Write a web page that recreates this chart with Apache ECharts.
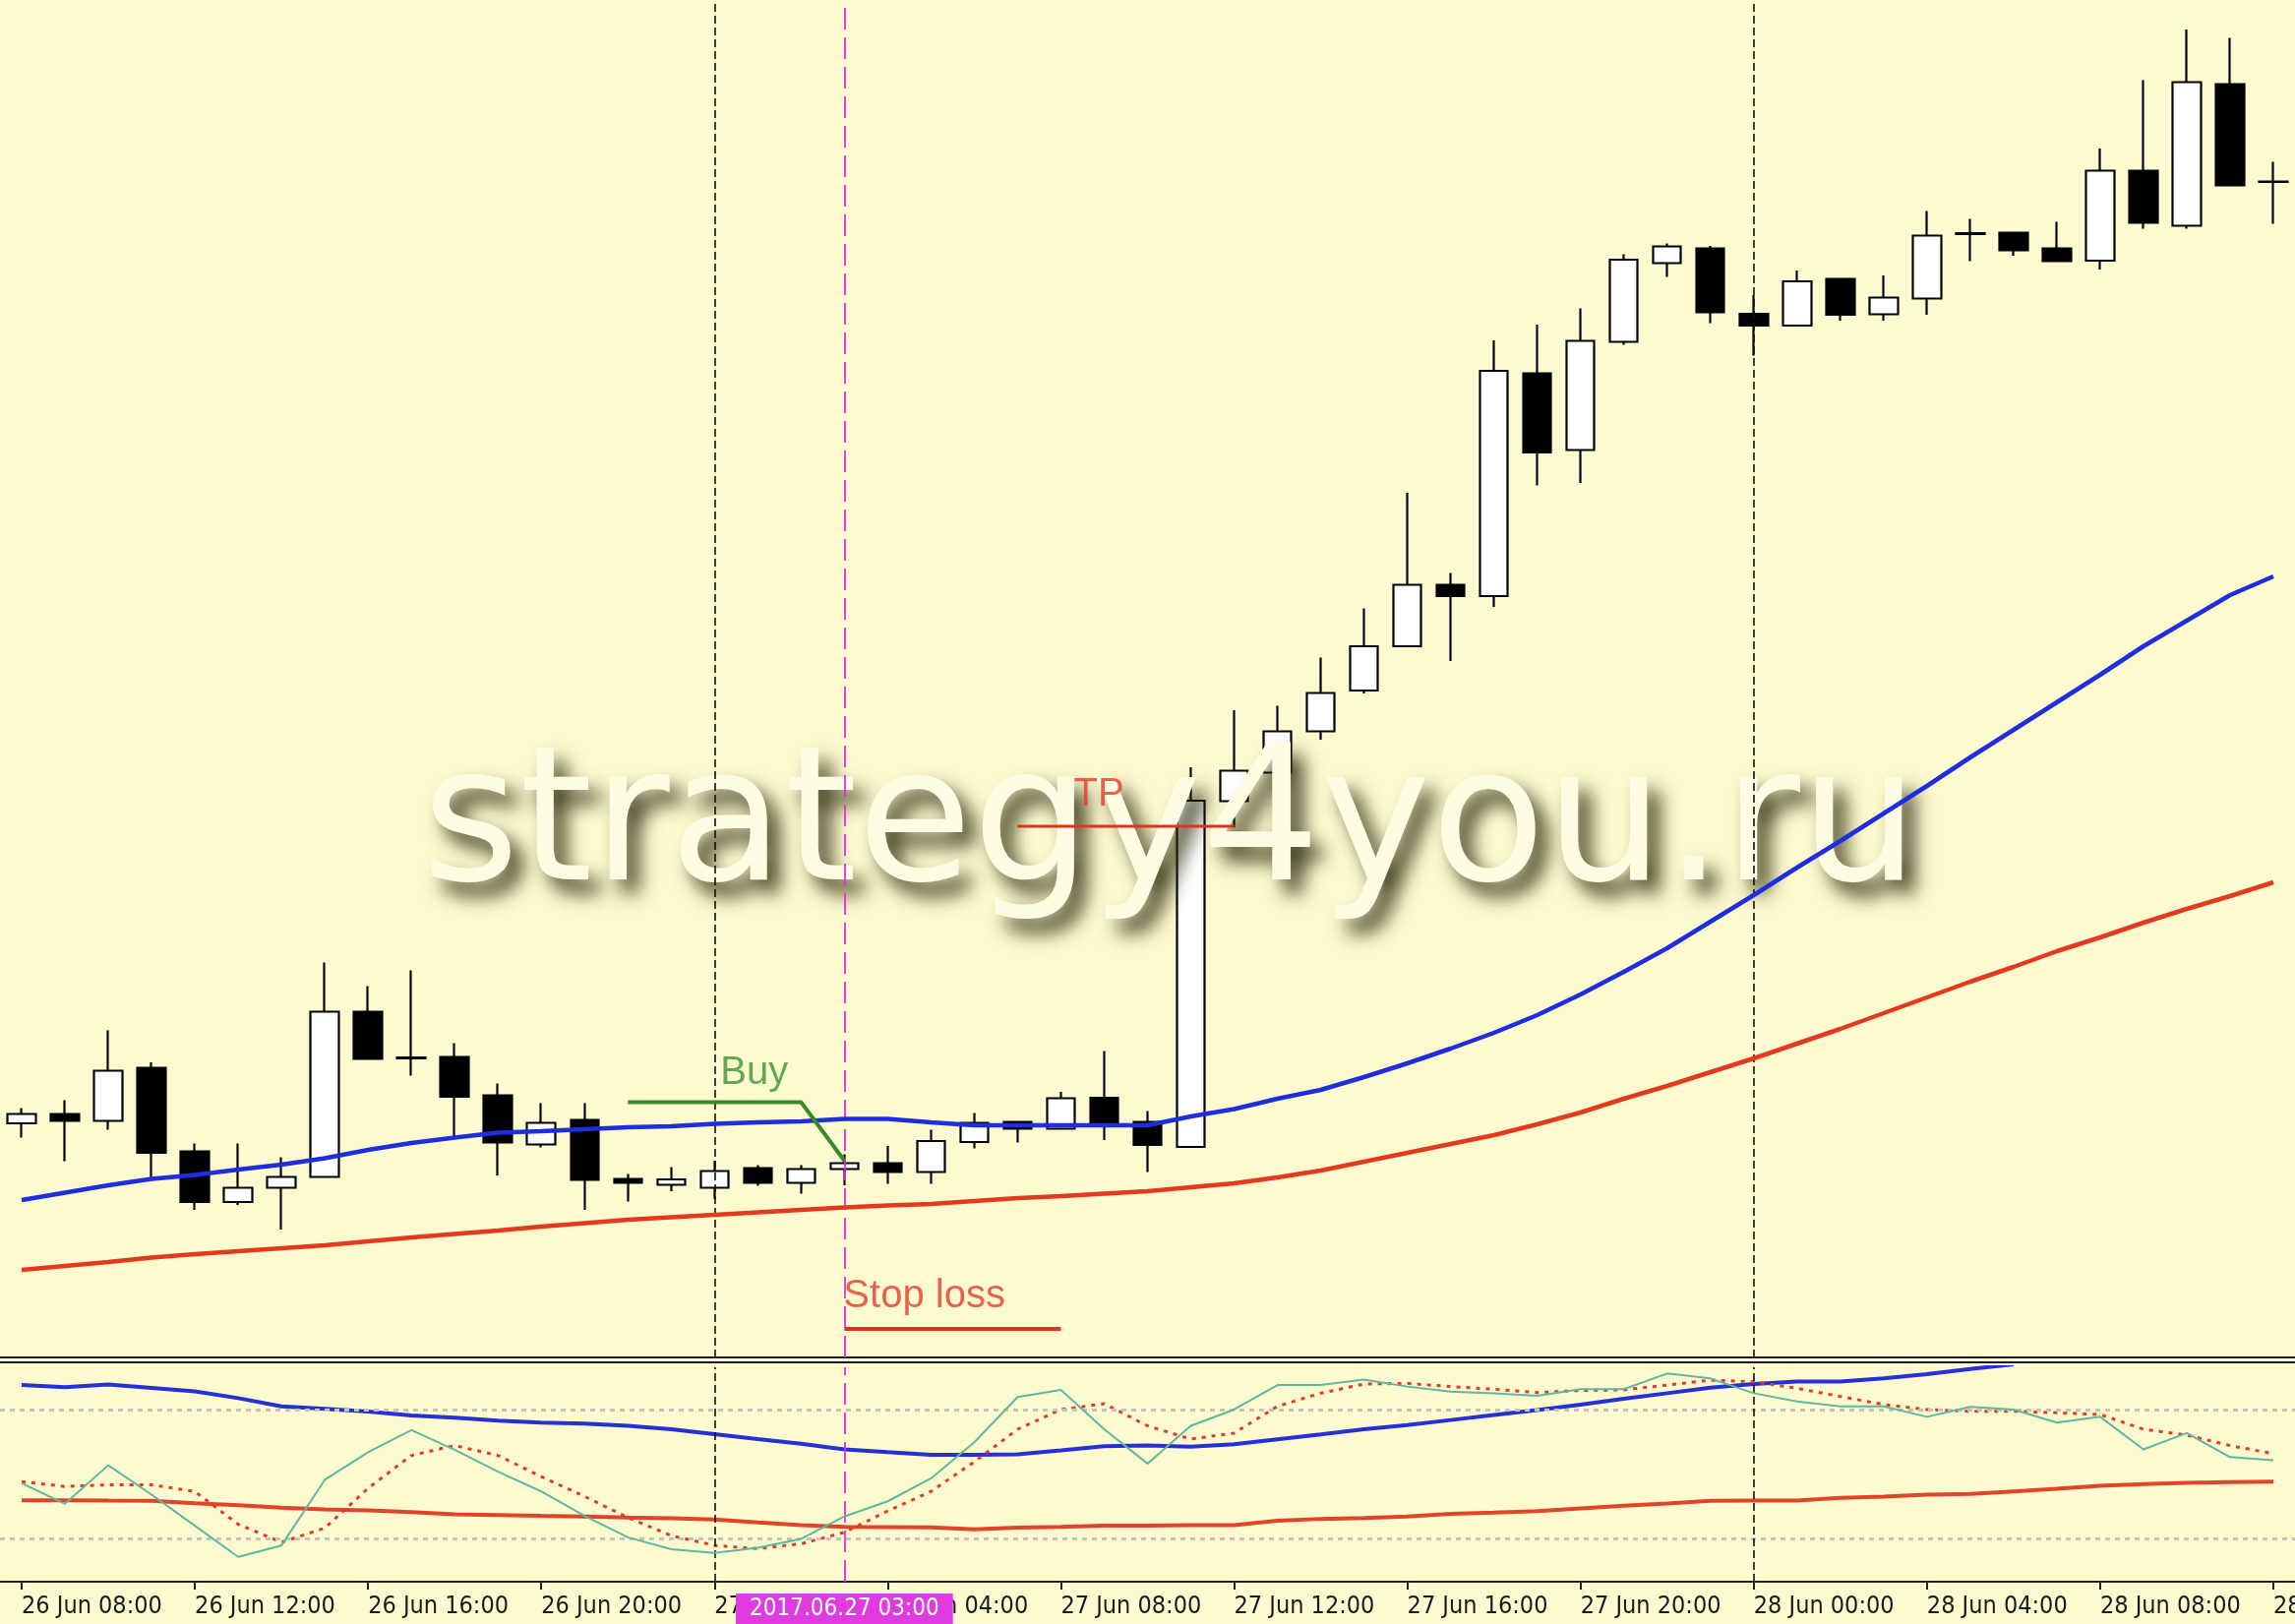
<!DOCTYPE html>
<html><head><meta charset="utf-8">
<script src="https://cdn.jsdelivr.net/npm/echarts/dist/echarts.min.js"></script>
<style>html,body{margin:0;padding:0;background:#fefad0;overflow:hidden}#chart{width:2333px;height:1651px;}</style>
</head><body><div id="chart"></div>
<script>
const times = [
 '26 Jun 08:00','26 Jun 09:00','26 Jun 10:00','26 Jun 11:00','26 Jun 12:00','26 Jun 13:00','26 Jun 14:00','26 Jun 15:00',
 '26 Jun 16:00','26 Jun 17:00','26 Jun 18:00','26 Jun 19:00','26 Jun 20:00','26 Jun 21:00','26 Jun 22:00','26 Jun 23:00',
 '27 Jun 00:00','27 Jun 01:00','27 Jun 02:00','27 Jun 03:00','27 Jun 04:00','27 Jun 05:00','27 Jun 06:00','27 Jun 07:00',
 '27 Jun 08:00','27 Jun 09:00','27 Jun 10:00','27 Jun 11:00','27 Jun 12:00','27 Jun 13:00','27 Jun 14:00','27 Jun 15:00',
 '27 Jun 16:00','27 Jun 17:00','27 Jun 18:00','27 Jun 19:00','27 Jun 20:00','27 Jun 21:00','27 Jun 22:00','27 Jun 23:00',
 '28 Jun 00:00','28 Jun 01:00','28 Jun 02:00','28 Jun 03:00','28 Jun 04:00','28 Jun 05:00','28 Jun 06:00','28 Jun 07:00',
 '28 Jun 08:00','28 Jun 09:00','28 Jun 10:00','28 Jun 11:00','28 Jun 12:00'
];
// [open, close, low, high]
const candles = [
 [1.11716,1.11735,1.11687,1.11747],[1.11735,1.11721,1.11639,1.11763],[1.11721,1.11823,1.11703,1.11905],[1.11829,1.11656,1.11605,1.11840],
 [1.11659,1.11556,1.11540,1.11675],[1.11556,1.11585,1.11550,1.11675],[1.11585,1.11607,1.11500,1.11647],[1.11607,1.11943,1.11605,1.12043],
 [1.11943,1.11847,1.11845,1.11995],[1.11850,1.11848,1.11813,1.12027],[1.11851,1.11770,1.11690,1.11879],[1.11773,1.11677,1.11610,1.11797],
 [1.11673,1.11717,1.11667,1.11757],[1.11723,1.11601,1.11540,1.11757],[1.11603,1.11595,1.11557,1.11613],[1.11591,1.11602,1.11578,1.11627],
 [1.11585,1.11619,1.11562,1.11640],[1.11625,1.11595,1.11589,1.11631],[1.11595,1.11623,1.11573,1.11631],[1.11623,1.11635,1.11590,1.11653],
 [1.11635,1.11617,1.11593,1.11670],[1.11617,1.11680,1.11593,1.11703],[1.11678,1.11717,1.11665,1.11737],[1.11719,1.11705,1.11677,1.11720],
 [1.11705,1.11767,1.11703,1.11780],[1.11768,1.11717,1.11682,1.11863],[1.11719,1.11672,1.11617,1.11741],[1.11668,1.12372,1.11666,1.12440],
 [1.12371,1.12433,1.12318,1.12556],[1.12429,1.12513,1.12344,1.12565],[1.12513,1.12591,1.12496,1.12663],[1.12596,1.12686,1.12590,1.12763],
 [1.12686,1.12811,1.12684,1.12998],[1.12811,1.12788,1.12656,1.12835],[1.12788,1.13246,1.12766,1.13308],[1.13241,1.13080,1.13013,1.13340],
 [1.13085,1.13307,1.13018,1.13373],[1.13305,1.13472,1.13299,1.13483],[1.13465,1.13499,1.13437,1.13505],[1.13495,1.13365,1.13343,1.13500],
 [1.13362,1.13338,1.13277,1.13400],[1.13338,1.13428,1.13336,1.13450],[1.13433,1.13360,1.13348,1.13435],[1.13361,1.13395,1.13348,1.13440],
 [1.13393,1.13521,1.13360,1.13571],[1.13524,1.13526,1.13469,1.13555],[1.13527,1.13491,1.13480,1.13527],[1.13495,1.13469,1.13468,1.13549],
 [1.13470,1.13653,1.13452,1.13698],[1.13653,1.13547,1.13535,1.13837],[1.13541,1.13833,1.13535,1.13940],[1.13829,1.13623,1.13622,1.13923],
 [1.13631,1.13630,1.13545,1.13671]
];
const maFast = [
 1.11560,1.11575,1.11590,1.11603,1.11611,1.11622,1.11632,1.11645,1.11662,1.11676,1.11687,1.11697,1.11700,1.11704,1.11708,1.11710,
 1.11715,1.11718,1.11720,1.11725,1.11725,1.11718,1.11712,1.11712,1.11712,1.11712,1.11712,1.11730,1.11745,1.11766,1.11784,1.11810,
 1.11838,1.11868,1.11900,1.11936,1.11978,1.12024,1.12072,1.12126,1.12180,1.12236,1.12290,1.12346,1.12402,1.12460,1.12516,1.12572,
 1.12628,1.12686,1.12738,1.12790,1.12828
];
const maSlow = [
 1.11418,1.11426,1.11434,1.11443,1.11450,1.11456,1.11462,1.11468,1.11476,1.11484,1.11491,1.11498,1.11506,1.11513,1.11520,1.11525,
 1.11530,1.11535,1.11540,1.11545,1.11549,1.11552,1.11558,1.11564,1.11568,1.11573,1.11578,1.11586,1.11594,1.11606,1.11620,1.11638,
 1.11656,1.11674,1.11692,1.11714,1.11738,1.11766,1.11792,1.11820,1.11848,1.11878,1.11908,1.11940,1.11972,1.12004,1.12034,1.12066,
 1.12094,1.12124,1.12152,1.12178,1.12206
];
const stochMain = [
 45.9,36.3,54.3,40.6,26.1,11.6,16.9,47.5,60.4,70.7,61.5,51.3,42.1,30.7,20.7,15.1,13.4,15.8,20.0,30.4,37.5,48.2,65.0,86.1,89.4,71.1,55.1,
 72.7,80.3,91.7,91.7,94.3,91.0,88.7,87.9,86.7,89.8,89.8,97.1,94.8,87.9,84.1,81.8,81.8,76.9,81.5,80.3,74.2,76.9,61.7,69.3,58.1,56.6
];
const stochSignal = [
 46.7,44.4,45.2,45.2,42.1,26.8,18.4,25.0,43.6,58.9,63.5,58.9,49.0,39.8,29.9,21.5,16.9,15.4,17.7,23.0,33.0,42.1,55.9,71.1,80.3,83.0,72.7,
 66.5,69.3,81.8,87.9,92.2,92.5,91.0,89.8,88.2,89.2,89.5,91.7,94.0,93.3,90.2,86.4,82.6,80.3,79.5,79.5,78.8,78.0,71.1,68.4,63.5,59.7
];
const oscBlue = [
 91.7,90.7,92.0,90.4,88.8,85.6,81.8,80.6,79.4,77.5,76.5,75.1,74.2,73.7,72.7,71.1,68.8,66.5,64.3,61.7,60.4,59.2,59.2,59.4,61.2,63.2,63.5,
 63.0,64.1,66.4,68.7,71.1,73.1,75.4,77.8,80.0,82.6,85.3,87.9,90.5,92.2,93.3,93.4,94.8,96.8,99.2,101.4,null,null,null,null,null,null
];
const oscRed = [
 38.0,38.0,37.8,37.7,36.6,35.7,34.5,33.7,33.3,32.5,31.4,31.1,30.7,30.4,29.9,29.6,29.0,27.6,26.4,25.6,25.5,25.3,24.4,25.2,25.6,26.1,26.2,
 26.4,26.4,28.4,29.3,29.7,30.4,31.7,32.2,32.9,34.2,35.4,36.5,37.7,37.8,37.8,39.1,39.7,40.6,40.9,42.1,43.3,44.7,45.5,46.1,46.5,46.7
];
const buyLine = [[14,1.11759],[18,1.11759],[19,1.11640]];
const tpLine = [[23,1.12320],[28,1.12320]];
const slLine = [[19,1.11298],[24,1.11298]];
const notes = ['Buy','TP','Stop loss'];
const noteX = [16,24,19];
const noteY = [1.11818,1.12384,1.11364];
const separators = [16,40];
const entryIndex = 19;
const entryLabel = '2017.06.27 03:00';
const levels = [20,80];
const watermark = 'strategy4you.ru';

const axisFont = "'Liberation Sans Narrow','DejaVu Sans Condensed','Liberation Sans',sans-serif";
const noteColors = ['#3d9530','#e23b2e','#e23b2e'];
const noteOffsets = [[6,0],[13,0],[-1,0]];

const sepStyle = {color:'#111', type:[8,4], width:1.6};
const magStyle = {color:'#e22ee2', type:[22,8], width:1.8};

const chart = echarts.init(document.getElementById('chart'), null, {renderer:'canvas'});
const option = {
  backgroundColor:'#fefad0',
  animation:false,
  grid:[
    {left:0,right:0,top:0,height:1380,containLabel:false,outerBoundsMode:'none'},
    {left:0,right:0,top:1390,height:218,containLabel:false,outerBoundsMode:'none'}
  ],
  xAxis:[
    {type:'category',gridIndex:0,data:times,boundaryGap:true,
     axisLine:{show:true,onZero:false,lineStyle:{color:'#1a1a1a',width:2}},axisTick:{show:false},axisLabel:{show:false},splitLine:{show:false}},
    {type:'category',gridIndex:1,data:times,boundaryGap:true,
     axisLine:{show:true,onZero:false,lineStyle:{color:'#222',width:2}},
     axisTick:{show:true,alignWithLabel:true,interval:3,length:8,lineStyle:{color:'#222',width:2}},
     axisLabel:{show:true,interval:3,align:'left',margin:13,fontSize:25,fontFamily:axisFont,color:'#1a1a1a',hideOverlap:false},
     splitLine:{show:false}},
    {type:'category',gridIndex:1,data:times,position:'top',offset:5,
     axisLine:{show:true,onZero:false,lineStyle:{color:'#1a1a1a',width:2}},axisTick:{show:false},axisLabel:{show:false},splitLine:{show:false}}
  ],
  yAxis:[
    {type:'value',gridIndex:0,min:1.11240,max:1.14000,show:false,splitLine:{show:false}},
    {type:'value',gridIndex:1,min:0,max:100,show:false,splitLine:{show:false}}
  ],
  graphic:[{
    type:'text', z:3, left:429, top:750, silent:true,
    style:{text:watermark, font:'190px "DejaVu Sans"', fill:'#fffce4',
      textShadowColor:'rgba(45,45,15,0.95)', textShadowBlur:20, textShadowOffsetX:12, textShadowOffsetY:14}
  }],
  series:[
    {type:'candlestick',name:'EURUSD,H1',xAxisIndex:0,yAxisIndex:0,data:candles,barWidth:29,z:2,
     itemStyle:{color:'#ffffff',color0:'#000000',borderColor:'#000000',borderColor0:'#000000',borderColorDoji:'#000000',borderWidth:2.2}},
    {type:'line',name:'MA fast',xAxisIndex:0,yAxisIndex:0,data:maFast,symbol:'none',z:5,
     lineStyle:{color:'#1f2de0',width:4.5},
     markLine:{silent:true,symbol:['none','none'],label:{show:false},animation:false,
       data:[...separators.map(i=>({xAxis:times[i],lineStyle:sepStyle})),{xAxis:times[entryIndex],lineStyle:magStyle}]}},
    {type:'line',name:'MA slow',xAxisIndex:0,yAxisIndex:0,data:maSlow,symbol:'none',z:5,
     lineStyle:{color:'#e3391f',width:4.5}},
    {type:'line',name:'Buy',xAxisIndex:0,yAxisIndex:0,data:buyLine,symbol:'none',z:6,
     lineStyle:{color:'#3a8a2a',width:4}},
    {type:'line',name:'TP',xAxisIndex:0,yAxisIndex:0,data:tpLine,symbol:'none',z:6,
     lineStyle:{color:'#e3301f',width:3}},
    {type:'line',name:'Stop loss',xAxisIndex:0,yAxisIndex:0,data:slLine,symbol:'none',z:6,
     lineStyle:{color:'#e3301f',width:4}},
    {type:'scatter',name:'notes',xAxisIndex:0,yAxisIndex:0,symbolSize:0,z:7,silent:true,
     data:notes.map((t,k)=>({name:t,value:[noteX[k],noteY[k]],
       label:{show:true,formatter:t,position:noteOffsets[k],align:'left',verticalAlign:'middle',
         color:noteColors[k],fontSize:40,fontFamily:"'Liberation Sans',Arial,sans-serif"}}))},
    {type:'line',name:'oscRed',xAxisIndex:1,yAxisIndex:1,data:oscRed,symbol:'none',z:3,
     lineStyle:{color:'#e0452c',width:4}},
    {type:'line',name:'oscBlue',xAxisIndex:1,yAxisIndex:1,data:oscBlue,symbol:'none',z:3,connectNulls:false,
     lineStyle:{color:'#2430d8',width:4}},
    {type:'line',name:'Signal',xAxisIndex:1,yAxisIndex:1,data:stochSignal,symbol:'none',z:4,
     lineStyle:{color:'#e03a28',width:3,type:[4,6]}},
    {type:'line',name:'Main',xAxisIndex:1,yAxisIndex:1,data:stochMain,symbol:'none',z:5,
     lineStyle:{color:'#5cb89e',width:2},
     markLine:{silent:true,symbol:['none','none'],animation:false,label:{show:false},
       data:[
         ...levels.map(v=>({yAxis:v,lineStyle:{color:'#c4c4bc',type:[5,5],width:3}})),
         ...separators.map(i=>({xAxis:times[i],lineStyle:sepStyle})),
         {xAxis:times[entryIndex],lineStyle:magStyle,
          label:{show:true,position:'start',distance:12,formatter:entryLabel,color:'#ffffff',
            backgroundColor:'#e03be0',padding:[4,14,3,14],fontSize:24,fontFamily:axisFont}}
       ]}}
  ]
};
chart.setOption(option);
</script></body></html>
